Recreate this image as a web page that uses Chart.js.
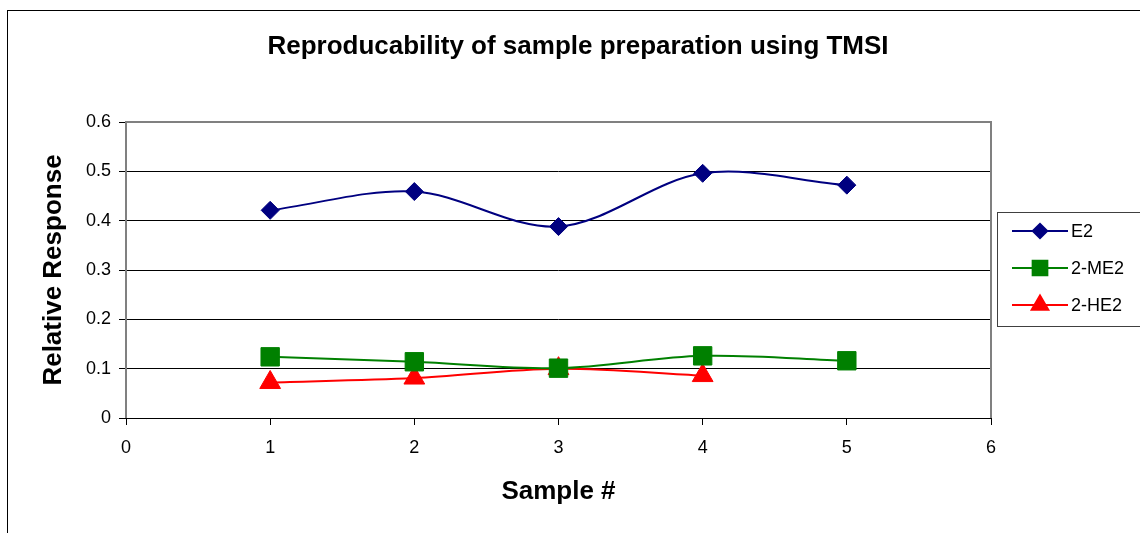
<!DOCTYPE html>
<html>
<head>
<meta charset="utf-8">
<script src="https://cdn.jsdelivr.net/npm/chart.js@4"></script>
<style>
  html, body { margin: 0; padding: 0; background: #fff; }
  canvas { display: block; }
</style>
</head>
<body>
<canvas id="chart" width="1140" height="533"></canvas>
<script>
// data
const samples = [1, 2, 3, 4, 5];
const e2 = [0.421, 0.459, 0.388, 0.496, 0.472];
const me2 = [0.124, 0.114, 0.101, 0.126, 0.116];
const he2 = [0.072, 0.081, 0.100, 0.086];

const chartTitle = 'Reproducability of sample preparation using TMSI';
const seriesNames = ['E2', '2-ME2', '2-HE2'];
const seriesColors = ['#000080', '#008000', '#FF0000'];
const seriesMarkers = ['rectRot', 'rect', 'triangle'];
const markerSizes = [9, 13, 12];

const fontFamily = '"Liberation Sans", Arial, sans-serif';

function toPoints(values) {
    return values.map((v, i) => ({ x: samples[i], y: v }));
}

const seriesData = [e2, me2, he2];

// frame, title, plot border and the legend
const decorations = {
    id: 'decorations',
    beforeDraw(chart) {
        const ctx = chart.ctx;
        ctx.save();
        ctx.fillStyle = '#fff';
        ctx.fillRect(0, 0, chart.width, chart.height);
        ctx.strokeStyle = '#000';
        ctx.lineWidth = 1;
        ctx.strokeRect(7.5, 10.5, chart.width, chart.height);
        ctx.fillStyle = '#000';
        ctx.font = 'bold 26px ' + fontFamily;
        ctx.textAlign = 'center';
        ctx.textBaseline = 'middle';
        ctx.fillText(chartTitle, 578, 47);
        ctx.restore();
    },
    afterDatasetsDraw(chart) {
        const ctx = chart.ctx;
        const a = chart.chartArea;
        ctx.save();
        ctx.strokeStyle = '#808080';
        ctx.lineWidth = 2;
        ctx.beginPath();
        ctx.moveTo(a.left, a.bottom);
        ctx.lineTo(a.left, a.top);
        ctx.lineTo(a.right, a.top);
        ctx.lineTo(a.right, a.bottom);
        ctx.stroke();
        ctx.strokeStyle = '#000';
        ctx.lineWidth = 1;
        ctx.beginPath();
        ctx.moveTo(a.left, a.bottom + 0.5);
        ctx.lineTo(a.right, a.bottom + 0.5);
        ctx.stroke();

        // legend
        const lx = 997, ly = 212, lw = 150, lh = 114;
        ctx.strokeStyle = '#404040';
        ctx.strokeRect(lx + 0.5, ly + 0.5, lw, lh);
        ctx.font = '18px ' + fontFamily;
        ctx.textBaseline = 'middle';
        seriesNames.forEach((name, i) => {
            const y = 231 + i * 37;
            ctx.strokeStyle = seriesColors[i];
            ctx.lineWidth = 2;
            ctx.beginPath();
            ctx.moveTo(1012, y);
            ctx.lineTo(1068, y);
            ctx.stroke();
            ctx.fillStyle = seriesColors[i];
            Chart.helpers.drawPoint(ctx, {
                pointStyle: seriesMarkers[i],
                radius: markerSizes[i] * 0.8,
                borderWidth: 1
            }, 1040, y);
            ctx.fill();
            ctx.fillStyle = '#000';
            ctx.fillText(name, 1071, y + 1);
        });
        ctx.restore();
    }
};

const datasets = seriesData.map((vals, i) => ({
    label: seriesNames[i],
    data: toPoints(vals),
    borderColor: seriesColors[i],
    backgroundColor: seriesColors[i],
    borderWidth: 2,
    tension: 0.33,
    pointStyle: seriesMarkers[i],
    pointRadius: markerSizes[i],
    pointBorderColor: seriesColors[i],
    pointBackgroundColor: seriesColors[i],
    pointBorderWidth: 1
}));

new Chart(document.getElementById('chart'), {
    type: 'line',
    data: { datasets: datasets },
    plugins: [decorations],
    options: {
        responsive: false,
        animation: false,
        devicePixelRatio: 1,
        layout: { padding: { left: 0, right: 149, top: 122, bottom: 0 } },
        plugins: {
            legend: { display: false },
            tooltip: { enabled: false },
            title: { display: false }
        },
        scales: {
            x: {
                type: 'linear',
                min: 0,
                max: 6,
                ticks: {
                    stepSize: 1,
                    color: '#000',
                    padding: 12,
                    font: { family: fontFamily, size: 18 }
                },
                grid: { drawOnChartArea: false, color: '#000', tickLength: 7 },
                border: { display: false },
                title: {
                    display: true,
                    text: 'Sample #',
                    color: '#000',
                    font: { family: fontFamily, size: 26, weight: 'bold', lineHeight: 1.2 },
                    padding: { top: 0, bottom: 26 }
                },
                afterFit(scale) { scale.height = 115; }
            },
            y: {
                min: 0,
                max: 0.6,
                ticks: {
                    stepSize: 0.1,
                    color: '#000',
                    padding: 8,
                    font: { family: fontFamily, size: 18 }
                },
                grid: { color: '#000', lineWidth: 1, tickLength: 7 },
                border: { display: false },
                title: {
                    display: true,
                    text: 'Relative Response',
                    color: '#000',
                    font: { family: fontFamily, size: 26, weight: 'bold', lineHeight: 1.2 },
                    padding: { top: 38, bottom: 0 }
                },
                afterFit(scale) { scale.width = 126; }
            }
        }
    }
});
</script>
</body>
</html>
